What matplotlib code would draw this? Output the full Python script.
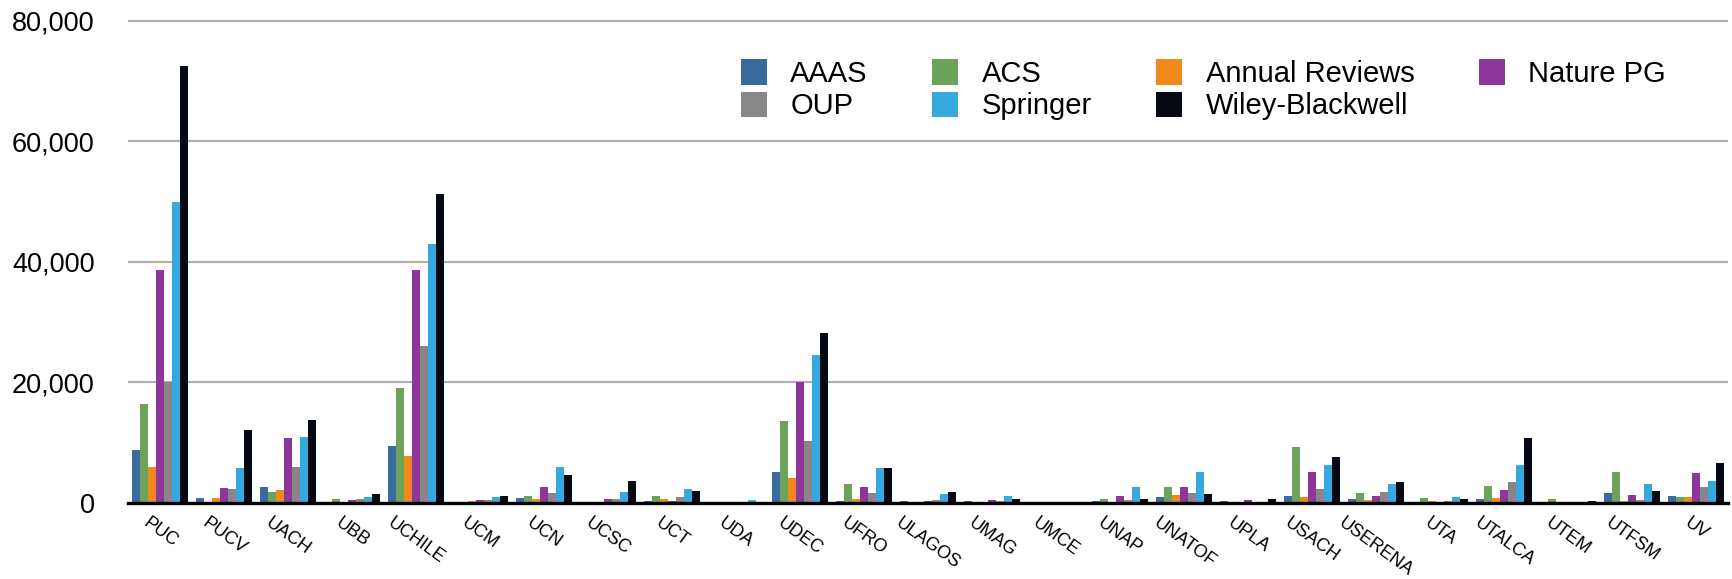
import numpy as np
import matplotlib
matplotlib.use("Agg")
import matplotlib.pyplot as plt
from matplotlib.ticker import FuncFormatter

plt.rcParams['font.family'] = ['Liberation Sans', 'DejaVu Sans']

universities = ['PUC', 'PUCV', 'UACH', 'UBB', 'UCHILE', 'UCM', 'UCN', 'UCSC', 'UCT',
                'UDA', 'UDEC', 'UFRO', 'ULAGOS', 'UMAG', 'UMCE', 'UNAP', 'UNATOF',
                'UPLA', 'USACH', 'USERENA', 'UTA', 'UTALCA', 'UTEM', 'UTFSM', 'UV']

publishers = ['AAAS', 'ACS', 'Annual Reviews', 'Nature PG', 'OUP', 'Springer', 'Wiley-Blackwell']
colors = ['#3b6b9d', '#6ca35a', '#f08a1e', '#8d369b', '#878787', '#36a9de', '#050a14']

aaas = [8800, 800, 2600, 0, 9500, 0, 800, 0, 300, 0, 5100, 300, 300, 300, 0, 300, 950,
        300, 1100, 600, 0, 600, 0, 1600, 1100]
acs = [16500, 0, 1800, 600, 19000, 0, 1100, 0, 1100, 0, 13600, 3100, 0, 0, 0, 600, 2600,
       0, 9300, 1600, 800, 2800, 600, 5100, 950]
annual_reviews = [6000, 800, 2100, 0, 7800, 300, 600, 0, 600, 0, 4100, 600, 0, 0, 0, 0, 1300,
                  0, 950, 450, 300, 800, 0, 300, 950]
nature_pg = [38600, 2500, 10800, 450, 38700, 450, 2600, 600, 300, 0, 20100, 2600, 300, 450, 0,
             1100, 2600, 450, 5100, 1100, 0, 2100, 0, 1300, 5000]
oup = [20000, 2300, 6000, 600, 26000, 450, 1600, 600, 950, 0, 10300, 1600, 450, 300, 0, 450,
       1600, 0, 2300, 1800, 300, 3500, 0, 450, 2600]
springer = [50000, 5800, 11000, 950, 43000, 950, 6000, 1800, 2300, 450, 24600, 5800, 1450,
            1100, 0, 2600, 5100, 0, 6300, 3100, 950, 6300, 0, 3100, 3600]
wiley = [72500, 12100, 13800, 1450, 51200, 1100, 4600, 3600, 2000, 0, 28200, 5800, 1800, 600,
         0, 600, 1450, 600, 7600, 3500, 600, 10800, 300, 2000, 6600]

series = [aaas, acs, annual_reviews, nature_pg, oup, springer, wiley]

fig = plt.figure(figsize=(17.32, 5.79), dpi=100)
ax = fig.add_axes([0.0739, 0.1313, 0.9238, 0.8371])

x = np.arange(len(universities))
n = len(series)
group_w = 0.875
bar_w = group_w / n
handles = []
for i, (vals, c, name) in enumerate(zip(series, colors, publishers)):
    pos = x - group_w / 2 + bar_w * (i + 0.5)
    h = ax.bar(pos, vals, width=bar_w, color=c, label=name, zorder=3, linewidth=0)
    handles.append(h)

ax.set_xlim(-0.5, len(universities) - 0.5)
ax.set_ylim(0, 80400)
ax.set_yticks([0, 20000, 40000, 60000, 80000])
ax.yaxis.set_major_formatter(FuncFormatter(lambda v, p: f'{int(v):,}'))
ax.yaxis.grid(True, color='#b0b0b0', linewidth=1.6, zorder=0)
ax.set_axisbelow(True)

for s in ['top', 'right', 'left']:
    ax.spines[s].set_visible(False)
ax.spines['bottom'].set_linewidth(2.4)
ax.spines['bottom'].set_color('black')
ax.spines['bottom'].set_zorder(4)

ax.tick_params(axis='y', length=0, pad=24, labelsize=19.5)
ax.tick_params(axis='x', length=0, pad=8)
ax.set_xticks(x)
ax.set_xticklabels(universities, rotation=-36, ha='center', va='top', fontsize=13)

# legend row-wise order: AAAS ACS AR Nature / OUP Springer Wiley
order = [0, 4, 1, 5, 2, 6, 3]
ax.legend([handles[i] for i in order], [publishers[i] for i in order],
          ncol=4, loc='upper left', bbox_to_anchor=(0.383, 0.915),
          frameon=False, fontsize=21, borderpad=0, borderaxespad=0,
          handlelength=0.9, handleheight=0.95, handletextpad=0.8,
          columnspacing=2.2, labelspacing=0.12)

fig.savefig('out.png', dpi=100)
